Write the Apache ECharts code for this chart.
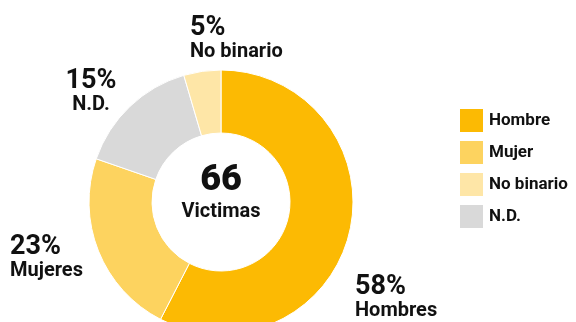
<!DOCTYPE html>
<html>
<head>
<meta charset="utf-8">
<script src="https://cdn.jsdelivr.net/npm/echarts@6/dist/echarts.min.js"></script>
<style>
  html, body { margin: 0; padding: 0; background: #fff; }
  #chart { width: 576px; height: 322px; }
</style>
</head>
<body>
<div id="chart"></div>
<script>
// datos (orden de la dona, sentido horario desde arriba)
const categories = ['Hombre', 'Mujer', 'N.D.', 'No binario'];
const victimas = [38, 15, 10, 3];
const pctLabels = ['58%', '23%', '15%', '5%'];
const sliceNames = ['Hombres', 'Mujeres', 'N.D.', 'No binario'];
const legendOrder = ['Hombre', 'Mujer', 'No binario', 'N.D.'];
const totalLabel = 'Victimas';

// colores
const colores = {
  'Hombre': '#FCBA03',
  'Mujer': '#FDD35F',
  'No binario': '#FEE6A7',
  'N.D.': '#D9D9D9',
};
const fontFam = 'Roboto, "Liberation Sans", sans-serif';

// posiciones de las etiquetas (x, y, align)
const labelPos = [
  [355, 274, 'left'],
  [10, 234, 'left'],
  [91, 68, 'center'],
  [190, 15, 'left'],
];

const total = victimas.reduce((a, b) => a + b, 0);
const myChart = echarts.init(document.getElementById('chart'));

const option = {
  animation: false,
  title: {
    text: String(total),
    subtext: totalLabel,
    left: 221,
    top: 166,
    textAlign: 'center',
    itemGap: 0,
    padding: 0,
    textStyle: { fontFamily: fontFam, fontSize: 36, fontWeight: 900, color: '#111', lineHeight: 30 },
    subtextStyle: { fontFamily: fontFam, fontSize: 20, fontWeight: 'bold', color: '#111', lineHeight: 20 },
  },
  legend: {
    orient: 'vertical',
    left: 458,
    top: 107,
    padding: 0,
    itemWidth: 25,
    itemHeight: 25,
    itemGap: 5,
    icon: 'rect',
    data: legendOrder,
    textStyle: { fontFamily: fontFam, fontSize: 17, fontWeight: 'bold', color: '#111' },
  },
  series: [
    {
      type: 'pie',
      center: [221, 202],
      radius: [69, 132],
      startAngle: 90,
      clockwise: true,
      itemStyle: { borderColor: '#fff', borderWidth: 1 },
      emphasis: { disabled: true },
      data: categories.map((c, i) => ({
        name: c,
        value: victimas[i],
        itemStyle: { color: colores[c] },
      })),
      label: {
        show: true,
        overflow: 'none',
        formatter: (p) => '{p|' + pctLabels[p.dataIndex] + '}\n{n|' + sliceNames[p.dataIndex] + '}',
        rich: {
          p: { fontFamily: fontFam, fontSize: 27, fontWeight: 'bold', color: '#111', lineHeight: 26 },
          n: { fontFamily: fontFam, fontSize: 20, fontWeight: 'bold', color: '#111', lineHeight: 22 },
        },
      },
      labelLine: { show: false },
      labelLayout: (params) => {
        const pos = labelPos[params.dataIndex];
        return { x: pos[0], y: pos[1], align: pos[2], verticalAlign: 'top' };
      },
    },
  ],
};
myChart.setOption(option);
</script>
</body>
</html>
